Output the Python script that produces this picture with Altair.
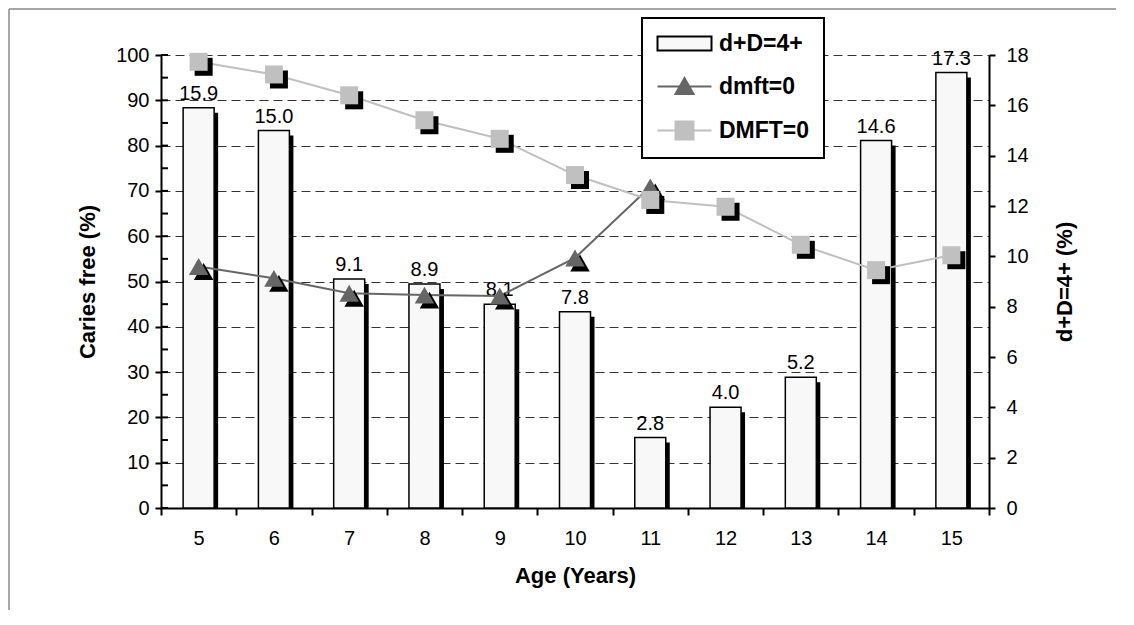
import altair as alt
import pandas as pd

# ---- data ----
ages = [5, 6, 7, 8, 9, 10, 11, 12, 13, 14, 15]
dD4_pct = [15.9, 15.0, 9.1, 8.9, 8.1, 7.8, 2.8, 4.0, 5.2, 14.6, 17.3]
dmft_ages = [5, 6, 7, 8, 9, 10, 11]
dmft_free = [53.3, 50.7, 47.4, 47.0, 46.8, 55.2, 70.9]
DMFT_free = [98.5, 95.7, 91.1, 85.6, 81.5, 73.5, 68.0, 66.5, 58.1, 52.5, 55.8]
left_ticks = [0, 10, 20, 30, 40, 50, 60, 70, 80, 90, 100]
left_minor = [0, 5, 10, 15, 20, 25, 30, 35, 40, 45, 50, 55, 60, 65, 70, 75, 80, 85, 90, 95, 100]
right_ticks = [0, 2, 4, 6, 8, 10, 12, 14, 16, 18]
series = ["d+D=4+", "dmft=0", "DMFT=0"]

FONT = "Liberation Sans"
BAR_FILL = "#f8f8f8"
DARK = "#666666"
LIGHT = "#c0c0c0"

bars_df = pd.DataFrame({"age": ages, "val": dD4_pct})
dmft_df = pd.DataFrame({"age": dmft_ages, "val": dmft_free})
DMFT_df = pd.DataFrame({"age": ages, "val": DMFT_free})
minor_df = pd.DataFrame({"val": left_minor})
legend_df = pd.DataFrame({"age": [ages[0]] * 3, "val": [None] * 3, "series": series})
one_df = pd.DataFrame({"a": [0]})

x_enc = alt.X(
    "age:O",
    title="Age (Years)",
    scale=alt.Scale(domain=ages, paddingInner=0, paddingOuter=0),
    axis=alt.Axis(
        labelAngle=0, tickBand="extent", tickSize=7, tickWidth=2, tickColor="black",
        domainColor="black", domainWidth=2, labelFontSize=20, labelPadding=13,
        labelColor="black", titleFontSize=22, titleFontWeight="bold", titleColor="black",
        titlePadding=17, grid=False,
    ),
)

right_axis = alt.Axis(
    orient="right", values=right_ticks, tickSize=6, tickWidth=2, tickColor="black",
    domainColor="black", domainWidth=2, labelFontSize=20, labelPadding=11,
    labelColor="black", grid=False, title="d+D=4+ (%)", titleFontSize=22,
    titleFontWeight="bold", titleColor="black", titleAngle=270, titlePadding=48,
)
left_axis = alt.Axis(
    orient="left", values=left_ticks, tickSize=6, tickWidth=2, tickColor="black",
    domainColor="black", domainWidth=2, labelFontSize=20, labelPadding=6,
    labelColor="black", grid=True, gridDash=[9, 5], gridColor="#333333", gridWidth=1,
    title="Caries free (%)", titleFontSize=22, titleFontWeight="bold",
    titleColor="black", titlePadding=16,
)

y_right = alt.Y("val:Q", scale=alt.Scale(domain=[0, 18], nice=False), axis=right_axis)
y_left = alt.Y("val:Q", scale=alt.Scale(domain=[0, 100], nice=False), axis=left_axis)

# ---- bar group (right axis) ----
bar_base = alt.Chart(bars_df).encode(x=x_enc, y=y_right)
bar_shadow = bar_base.mark_bar(color="black", size=31, xOffset=4, yOffset=5, clip=True)
bars = bar_base.mark_bar(fill=BAR_FILL, stroke="black", strokeWidth=1.5, size=31)
bar_labels = bar_base.mark_text(
    dy=-8, baseline="alphabetic", fontSize=20, color="black"
).encode(text=alt.Text("val:Q", format=".1f"))
bar_group = alt.layer(bar_shadow, bars, bar_labels)

# ---- line group (left axis) ----
minor_ticks = alt.Chart(minor_df).mark_rule(color="black", strokeWidth=2).encode(
    y=y_left, x=alt.value(0), x2=alt.value(7)
)
frame_left = alt.Chart(one_df).mark_rule(color="#8a8a8a", strokeWidth=1.5).encode(
    x=alt.value(-152), y=alt.value(-46), y2=alt.value(555)
)
frame_top = alt.Chart(one_df).mark_rule(color="#8a8a8a", strokeWidth=1.5).encode(
    x=alt.value(-152), x2=alt.value(955), y=alt.value(-46)
)

dmft_base = alt.Chart(dmft_df).encode(x=x_enc, y=y_left)
dmft_line = dmft_base.mark_line(color=DARK, strokeWidth=2)
dmft_shadow = dmft_base.mark_point(shape="triangle-up", filled=True, size=380,
                                   color="black", opacity=1, xOffset=5, yOffset=5)
dmft_pts = dmft_base.mark_point(shape="triangle-up", filled=True, size=380,
                                color=DARK, opacity=1)

DMFT_base = alt.Chart(DMFT_df).encode(x=x_enc, y=y_left)
DMFT_line = DMFT_base.mark_line(color=LIGHT, strokeWidth=2)
DMFT_shadow = DMFT_base.mark_point(shape="square", filled=True, size=324,
                                   color="black", opacity=1, xOffset=5, yOffset=5)
DMFT_pts = DMFT_base.mark_point(shape="square", filled=True, size=324,
                                color=LIGHT, opacity=1)

bar_path = "M-1,-0.7H4.4V0.7H-1Z"
tri_path = "M-1,0H4.4M0.8,0.75L1.7,-0.85L2.6,0.75Z"
sq_path = "M-1,0H4.4M0.8,-0.9H2.6V0.9H0.8Z"

legend_layer = alt.Chart(legend_df).mark_point(filled=True, opacity=1).encode(
    x=x_enc,
    y=y_left,
    fill=alt.Fill("series:N", scale=alt.Scale(domain=series, range=[BAR_FILL, DARK, LIGHT]),
                  legend=alt.Legend(title=None)),
    stroke=alt.Stroke("series:N", scale=alt.Scale(domain=series, range=["black", DARK, LIGHT]),
                      legend=alt.Legend(title=None)),
    shape=alt.Shape("series:N", scale=alt.Scale(domain=series, range=[bar_path, tri_path, sq_path]),
                    legend=alt.Legend(title=None)),
)

line_group = alt.layer(
    minor_ticks, frame_left, frame_top,
    dmft_line, dmft_shadow, dmft_pts,
    DMFT_line, DMFT_shadow, DMFT_pts,
    legend_layer,
)

chart = (
    alt.layer(bar_group, line_group)
    .resolve_scale(y="independent")
    .properties(width=828, height=453, padding=0)
    .configure(font=FONT)
    .configure_view(stroke=None)
    .configure_legend(
        orient="none", legendX=481, legendY=-37, padding=14, rowPadding=18,
        strokeColor="black", strokeWidth=2, fillColor="white",
        symbolSize=400, symbolStrokeWidth=2, labelFontSize=23,
        labelFontWeight="bold", labelColor="black", labelOffset=40, labelFont=FONT,
    )
)

chart.save("out.html", embed_options={"renderer": "svg", "actions": False})
